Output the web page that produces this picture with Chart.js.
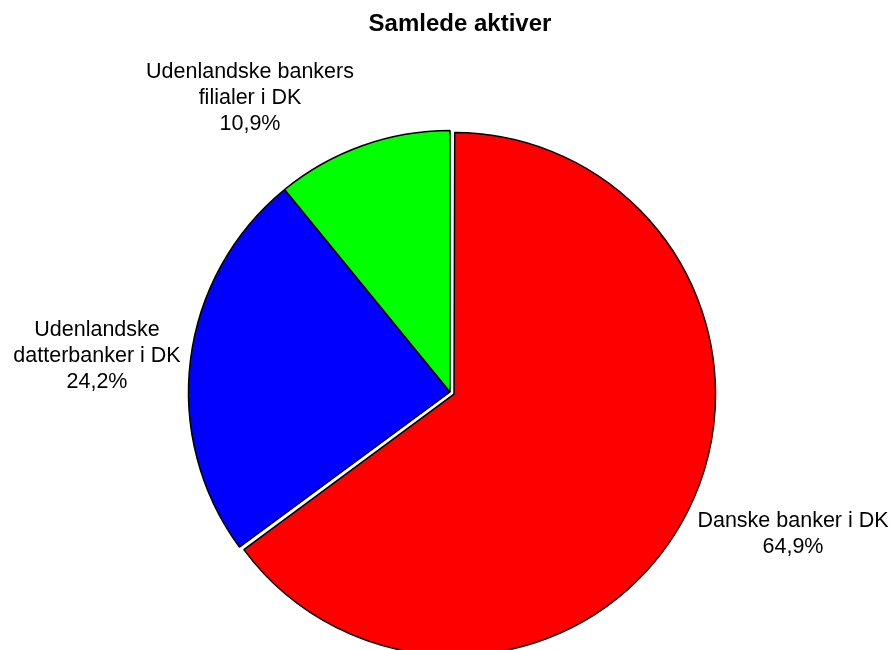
<!DOCTYPE html>
<html>
<head>
<meta charset="utf-8">
<script src="https://cdn.jsdelivr.net/npm/chart.js@4"></script>
<style>
  html, body { margin: 0; padding: 0; background: #fff; }
  #wrap { width: 892px; height: 650px; }
</style>
</head>
<body>
<div id="wrap"><canvas id="chart" width="892" height="650"></canvas></div>
<script>
const title = 'Samlede aktiver';
const categories = ['Danske banker i DK', 'Udenlandske datterbanker i DK', 'Udenlandske bankers filialer i DK'];
const values = [64.9, 24.2, 10.9];
const sliceColors = ['#ff0000', '#0000ff', '#00ff00'];

// label lines as they wrap in the picture
const labelLines = [
  ['Danske banker i DK', '64,9%'],
  ['Udenlandske', 'datterbanker i DK', '24,2%'],
  ['Udenlandske bankers', 'filialer i DK', '10,9%'],
];
// x centre and first baseline of each label block
const labelPos = [
  { x: 793, y: 527 },
  { x: 97, y: 336 },
  { x: 250, y: 78 },
];

const FONT = '"Liberation Sans", Arial, sans-serif';
const PIE_RADIUS = 261.5;
const EXPLODE = 18; // Chart.js moves the arc by a quarter of this

const textPlugin = {
  id: 'texts',
  afterDraw(chart) {
    const ctx = chart.ctx;
    ctx.save();
    ctx.fillStyle = '#000';
    ctx.textAlign = 'center';
    ctx.textBaseline = 'alphabetic';

    ctx.font = 'bold 24px ' + FONT;
    ctx.fillText(title, 460, 31);

    ctx.font = '21.5px ' + FONT;
    labelLines.forEach((lines, i) => {
      lines.forEach((line, j) => {
        ctx.fillText(line, labelPos[i].x, labelPos[i].y + j * 26);
      });
    });
    ctx.restore();
  },
};

// an offset arc wider than 180deg also grows its radius by the offset,
// so take that back to keep the exploded slice the same size
const explodeFix = {
  id: 'explodeFix',
  beforeDatasetsDraw(chart) {
    const meta = chart.getDatasetMeta(0);
    const offsets = chart.data.datasets[0].offset;
    meta.data.forEach((arc, i) => {
      const circ = arc.endAngle - arc.startAngle;
      const fix = 1 - Math.sin(Math.min(Math.PI, circ));
      arc.outerRadius = PIE_RADIUS - (offsets[i] / 4) * fix;
    });
  },
};

new Chart(document.getElementById('chart'), {
  type: 'pie',
  data: {
    labels: categories,
    datasets: [
      {
        data: values,
        backgroundColor: sliceColors,
        borderColor: '#000',
        borderWidth: 1.5,
        offset: [EXPLODE, 0, 0],
        hoverOffset: 0,
      },
    ],
  },
  options: {
    responsive: false,
    animation: false,
    radius: PIE_RADIUS,
    layout: {
      padding: { left: 8, top: 134, right: 0, bottom: 0 },
    },
    plugins: {
      legend: { display: false },
      tooltip: { enabled: false },
      title: { display: false },
    },
  },
  plugins: [textPlugin, explodeFix],
});
</script>
</body>
</html>
